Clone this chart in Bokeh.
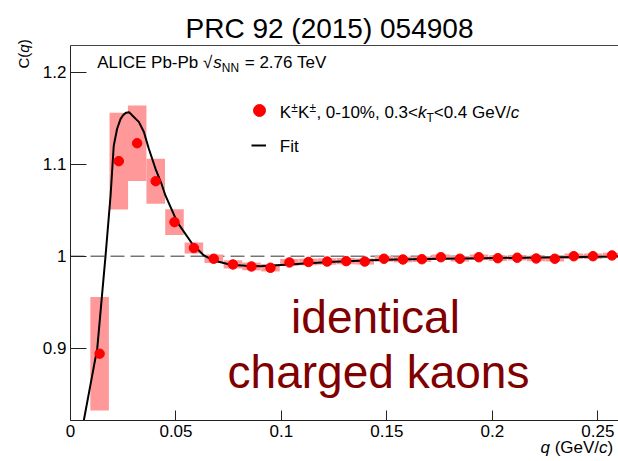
import math
from bokeh.plotting import figure
from bokeh.models import (Label, LinearAxis, FixedTicker, Legend, LegendItem,
                          Range1d, ColumnDataSource)
from bokeh.embed import file_html
from bokeh.resources import INLINE

# ---------------- data ----------------
q_values = [0.0138, 0.0229, 0.0316, 0.0404, 0.0493, 0.0585, 0.0679, 0.0770, 0.0858,
            0.0948, 0.1038, 0.1128, 0.1217, 0.1307, 0.1395, 0.1486, 0.1576, 0.1666,
            0.1756, 0.1846, 0.1936, 0.2026, 0.2118, 0.2208, 0.2296, 0.2386, 0.2477,
            0.2567]
c_values = [0.894, 1.1033, 1.1228, 1.0815, 1.037, 1.0089, 0.9972, 0.9910, 0.9888,
            0.9874, 0.9932, 0.9937, 0.9942, 0.9946, 0.9942, 0.9972, 0.9964, 0.9967,
            0.9989, 0.9972, 0.9989, 0.9978, 0.9983, 0.9975, 0.9972, 1.0000, 1.0000,
            1.0008]
syst_values = [0.0616, 0.0525, 0.0411, 0.0245, 0.0141, 0.0060, 0.0045, 0.0045, 0.0042,
               0.0040, 0.0038, 0.0036, 0.0035, 0.0034, 0.0033, 0.0032, 0.0031, 0.0030,
               0.0030, 0.0030, 0.0030, 0.0030, 0.0030, 0.0030, 0.0030, 0.0030, 0.0030,
               0.0030]

fit_q = [0.0063, 0.0127, 0.0166, 0.0190, 0.0205, 0.0221, 0.0237, 0.0250, 0.0264, 0.0278,
         0.0293, 0.0324, 0.0348, 0.0371, 0.0403, 0.0431, 0.0450, 0.0506, 0.0577, 0.0632,
         0.0679, 0.0759, 0.0830, 0.0901, 0.1000, 0.1090, 0.1250, 0.1486, 0.1750, 0.1960,
         0.2567, 0.2598]
fit_c = [0.8214, 0.9000, 1.0000, 1.0660, 1.1200, 1.1385, 1.1490, 1.1535, 1.1560, 1.1565,
         1.1530, 1.1460, 1.1350, 1.1170, 1.0950, 1.0790, 1.0660, 1.0370, 1.0135, 1.0008,
         0.9953, 0.9907, 0.9895, 0.9891, 0.9905, 0.9918, 0.9940, 0.9961, 0.9972, 0.9978,
         0.9997, 1.0000]

unity = 1.0

x_ticks = [0, 0.05, 0.1, 0.15, 0.2, 0.25]
x_tick_labels = ["0", "0.05", "0.1", "0.15", "0.2", "0.25"]
y_ticks = [0.9, 1.0, 1.1, 1.2]
y_tick_labels = ["0.9", "1", "1.1", "1.2"]

title_text = "PRC 92 (2015) 054908"
big_text = ["identical", "charged kaons"]

# ---------------- layout ----------------
W, H = 618, 461
FL, FR, FT, FB = 70, 618, 45, 420          # visual frame (pixels)
X0, X1 = 0.0, 0.2598                        # visual frame (data)
Y0, Y1 = 0.8214, 1.229
FONT = "Liberation Sans"
BASE_FIX = 0.3                              # empirical baseline correction (em)

PX = (FR - FL) / (X1 - X0)
PY = (FB - FT) / (Y1 - Y0)
XS, XE = X0 - FL / PX, X1 + (W - FR) / PX
YS, YE = Y0 - (H - FB) / PY, Y1 + FT / PY

def dx(cx):
    return X0 + (cx - FL) / PX

def dy(cy):
    return Y0 + (FB - cy) / PY

# Arial / Liberation Sans advance widths (per 1000 em)
CW = {' ': 278, '%': 889, '(': 333, ')': 333, ',': 278, '-': 333, '.': 278, '/': 278,
      '<': 584, '=': 584, 'A': 667, 'C': 722, 'E': 667, 'F': 611, 'G': 778, 'I': 278,
      'K': 667, 'L': 556, 'N': 722, 'P': 667, 'R': 722, 'T': 611, 'V': 667, 'a': 556,
      'b': 556, 'c': 500, 'd': 556, 'e': 556, 'g': 556, 'h': 556, 'i': 222, 'k': 500,
      'l': 222, 'n': 556, 'o': 556, 'q': 556, 'r': 333, 's': 500, 't': 278,
      '\u00b1': 584, '\u221a': 549}

def tw(text, size):
    return sum(CW.get(ch, 556) for ch in text) / 1000.0 * size

p = figure(width=W, height=H, output_backend="svg", toolbar_location=None,
           x_range=Range1d(XS, XE), y_range=Range1d(YS, YE),
           min_border_left=0, min_border_right=0, min_border_top=0,
           min_border_bottom=0, title=None, x_axis_location=None,
           y_axis_location=None)
p.background_fill_color = "white"
p.border_fill_color = "white"
p.outline_line_color = None
p.xgrid.visible = False
p.ygrid.visible = False

AX_COL = "#222222"
xa = LinearAxis(ticker=FixedTicker(ticks=x_ticks), fixed_location=Y0, bounds=(X0, X1),
                major_label_overrides={t: l for t, l in zip(x_ticks, x_tick_labels)})
ya = LinearAxis(ticker=FixedTicker(ticks=y_ticks), fixed_location=X0, bounds=(Y0, Y1),
                major_label_overrides={t: l for t, l in zip(y_ticks, y_tick_labels)})
for ax, tin in ((xa, 10), (ya, 16)):
    ax.major_tick_in = tin
    ax.major_tick_out = 0
    ax.minor_tick_in = 0
    ax.minor_tick_out = 0
    ax.axis_line_color = AX_COL
    ax.major_tick_line_color = AX_COL
    ax.major_label_text_font = FONT
    ax.major_label_text_font_size = "17px"
    ax.major_label_text_color = "black"
    ax.major_label_standoff = 4
p.add_layout(xa, "below")
p.add_layout(ya, "left")
top = LinearAxis(ticker=FixedTicker(ticks=[]), fixed_location=Y1, bounds=(X0, X1),
                 major_tick_in=0, major_tick_out=0, minor_tick_in=0, minor_tick_out=0,
                 axis_line_color="#444444", major_label_text_font_size="0px")
p.add_layout(top, "above")

# dashed unity reference line
p.segment(x0=[X0], y0=[unity], x1=[X1], y1=[unity], line_color="#333333",
          line_width=1, line_dash="14 6")

src = ColumnDataSource(dict(q=q_values, c=c_values,
                            h=[2 * s for s in syst_values]))
p.rect(x="q", y="c", width=0.0088, height="h", source=src,
       fill_color="#ff9999", line_color=None)
fit_r = p.line(fit_q, fit_c, line_color="black", line_width=2)
pts_r = p.scatter(x="q", y="c", source=src, size=9.5, marker="circle",
                  fill_color="#ff0000", line_color="#ff0000")

leg_style = dict(padding=0, margin=0, border_line_color=None, background_fill_alpha=0,
                 label_text_font_size="1px", label_standoff=0, spacing=0)
leg_pts = Legend(items=[LegendItem(label=" ", renderers=[pts_r])],
                 location=(244.3, H - 125), glyph_width=30, glyph_height=30, **leg_style)
leg_fit = Legend(items=[LegendItem(label=" ", renderers=[fit_r])],
                 location=(251, H - 155), glyph_width=15, glyph_height=20, **leg_style)
p.add_layout(leg_pts)
p.add_layout(leg_fit)

def put(text, cx, cy, size, style="normal", color="black", align="left", angle=0.0):
    if angle == 0.0:
        cy = cy - BASE_FIX * size
    p.add_layout(Label(x=dx(cx), y=dy(cy), text=text, text_font=FONT,
                       text_font_size=f"{size:.1f}px", text_font_style=style,
                       text_color=color, text_align=align, text_baseline="alphabetic",
                       angle=angle))

def rich(parts, cx, cy, size):
    # parts: (text, style, scale, baseline shift in px (positive = up), extra gap)
    # leading spaces are turned into horizontal gaps (SVG drops them)
    x = cx
    for text, style, scale, shift, gap in parts:
        s = size * scale
        stripped = text.lstrip(" ")
        x += tw(text[:len(text) - len(stripped)], s)
        put(stripped, x, cy - shift, s, style)
        x += tw(stripped, s) + gap

# title
put(title_text, 185, 36, 28)

# y-axis title "C(q)" rotated
ycx, ycy, ys = 23, 68, 15
put("C(", ycx, ycy, ys, angle=math.pi / 2)
ycy -= tw("C(", ys)
put("q", ycx, ycy, ys, style="italic", angle=math.pi / 2)
ycy -= tw("q", ys)
put(")", ycx, ycy, ys, angle=math.pi / 2)

# x-axis title
rich([("q", "italic", 1, 0, 0), (" (GeV/", "normal", 1, 0, 0),
      ("c", "italic", 1, 0, 0), (")", "normal", 1, 0, 0)], 540, 452, 17)

# header
rich([("ALICE Pb-Pb ", "normal", 1, 0, 0), ("\u221a", "normal", 1, 0, 1),
      ("s", "italic", 1, 0, 0), ("NN", "normal", 0.7, -4, 1),
      (" = 2.76 TeV", "normal", 1, 0, 0)], 96.7, 67, 17)

# legend texts
rich([("K", "normal", 1, 0, 0), ("\u00b1", "normal", 0.7, 6, 0),
      ("K", "normal", 1, 0, 0), ("\u00b1", "normal", 0.7, 6, 0),
      (", 0-10%, 0.3<", "normal", 1, 0, 0), ("k", "italic", 1, 0, 0),
      ("T", "normal", 0.7, -4, 0), ("<0.4 GeV/", "normal", 1, 0, 0),
      ("c", "italic", 1, 0, 0)], 279.3, 117, 17)
put("Fit", 279.3, 151, 17)

# big annotation
put(big_text[0], 375, 330, 46, color="#800000", align="center")
put(big_text[1], 378, 385, 46, color="#800000", align="center")

open("out.html", "w").write(file_html(p, INLINE))
